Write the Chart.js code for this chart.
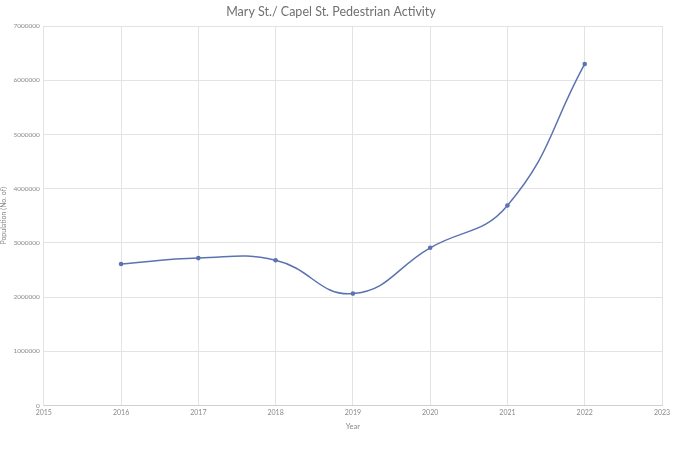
<!DOCTYPE html>
<html lang="en">
<head>
    <meta charset="UTF-8">
    <script src="https://cdn.jsdelivr.net/npm/chart.js"></script>
    <title>Mary St./ Capel St. Pedestrian Activity</title>
    <style>
        body { margin: 0; background: #fff; }
    </style>
</head>
<body>
    <div style="width: 680px; height: 454px;">
        <canvas id="grafico1"></canvas>
    </div>

    <script>
        const ctx = document.getElementById('grafico1');

        let anos = [2016, 2017, 2018, 2019, 2020, 2021, 2022]
        let pedestres = [2610000, 2720000, 2680000, 2065000, 2910000, 3690000, 6300000]
        let yTicks = [0, 1000000, 2000000, 3000000, 4000000, 5000000, 6000000, 7000000]
        let xTicks = [2015, 2016, 2017, 2018, 2019, 2020, 2021, 2022, 2023]

        const cinza = '#8a8a8a'
        const grade = '#e3e3e3'
        const fonte = 'Lato, "Open Sans", sans-serif'

        let grafico1 = new Chart(ctx, {
            type: 'line',
            data: {
                datasets: [{
                    label: 'Population',
                    data: anos.map((a, i) => ({ x: a, y: pedestres[i] })),
                    borderColor: '#5b73b1',
                    backgroundColor: '#5b73b1',
                    borderWidth: 1.5,
                    pointRadius: 2.3,
                    pointBorderWidth: 0,
                    tension: 0.45
                }]
            },
            options: {
                responsive: true,
                maintainAspectRatio: false,
                animation: false,
                layout: { padding: { top: 4, right: 18, bottom: 23, left: 0 } },
                plugins: {
                    legend: { display: false },
                    tooltip: { enabled: false },
                    title: {
                        display: true,
                        text: 'Mary St./ Capel St. Pedestrian Activity',
                        color: '#707070',
                        font: { family: fonte, size: 12.5, weight: 'normal' },
                        padding: { top: 0, bottom: 7 }
                    }
                },
                scales: {
                    x: {
                        type: 'linear',
                        min: 2015,
                        max: 2023,
                        afterBuildTicks: s => { s.ticks = xTicks.map(v => ({ value: v })) },
                        ticks: {
                            color: cinza,
                            font: { family: fonte, size: 7 },
                            padding: 3,
                            maxRotation: 0,
                            callback: v => String(v)
                        },
                        grid: { color: grade, drawTicks: false },
                        border: { color: '#d0d0d0' },
                        title: {
                            display: true,
                            text: 'Year',
                            color: cinza,
                            font: { family: fonte, size: 7.5 },
                            padding: { top: 2, bottom: 0 }
                        }
                    },
                    y: {
                        min: 0,
                        max: 7000000,
                        afterBuildTicks: s => { s.ticks = yTicks.map(v => ({ value: v })) },
                        ticks: {
                            color: cinza,
                            font: { family: fonte, size: 6.5 },
                            padding: 4,
                            callback: v => String(v)
                        },
                        grid: { color: grade, drawTicks: false },
                        border: { color: grade },
                        title: {
                            display: true,
                            text: 'Population (No. of)',
                            color: cinza,
                            font: { family: fonte, size: 7 },
                            padding: { top: 0, bottom: 1 }
                        }
                    }
                }
            }
        });
    </script>
</body>
</html>
